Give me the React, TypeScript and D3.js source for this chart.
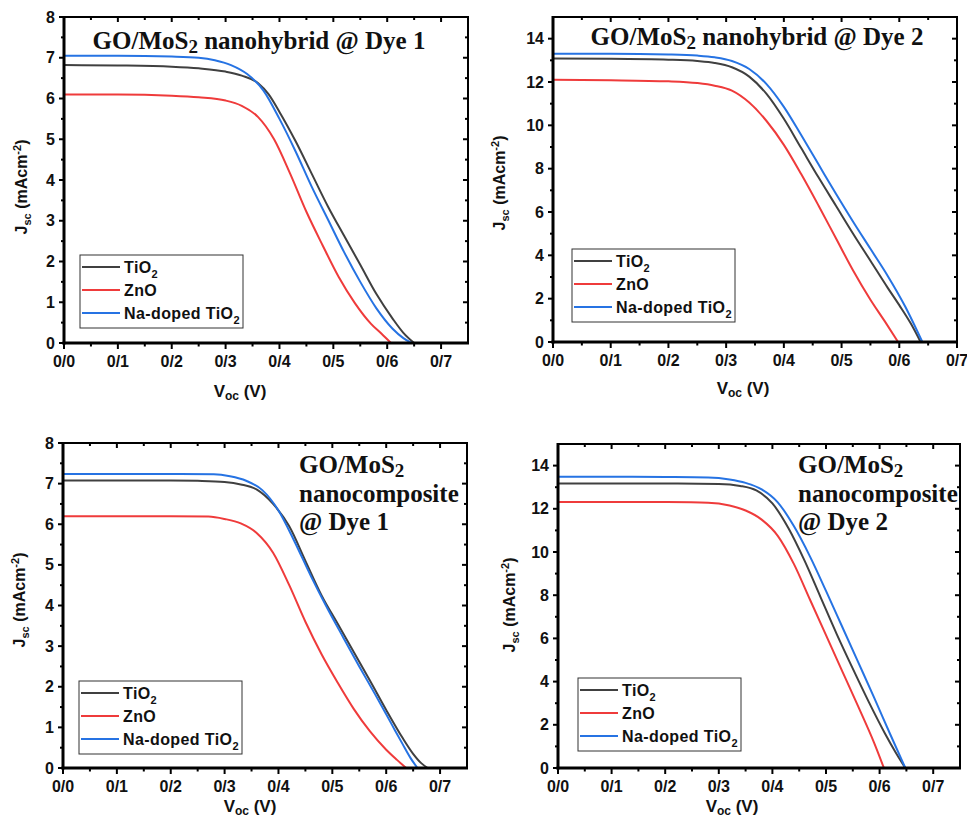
import React from 'react';
import * as d3 from 'd3';

// ---------- categories / ticks ----------
const seriesNames = ['TiO2', 'ZnO', 'Na-doped TiO2'];
const seriesColors = ['#404040', '#ef3b3b', '#2673e3'];

const xTicks = [0, 0.1, 0.2, 0.3, 0.4, 0.5, 0.6, 0.7];
const xTickLabels = ['0/0', '0/1', '0/2', '0/3', '0/4', '0/5', '0/6', '0/7'];
const xMinorTicks = [0.05, 0.15, 0.25, 0.35, 0.45, 0.55, 0.65, 0.75];
const yTicks8 = [0, 1, 2, 3, 4, 5, 6, 7, 8];
const yMinor8 = [0.5, 1.5, 2.5, 3.5, 4.5, 5.5, 6.5, 7.5];
const yTicks15 = [0, 2, 4, 6, 8, 10, 12, 14];
const yMinor15 = [1, 3, 5, 7, 9, 11, 13, 15];

// ---------- Panel 1: nanohybrid @ Dye 1 ----------
const p1TiO2V = [0, 0.1, 0.2, 0.25, 0.3, 0.33, 0.36, 0.38, 0.40, 0.43, 0.46, 0.49, 0.52, 0.55, 0.58, 0.61, 0.63, 0.65];
const p1TiO2J = [6.82, 6.81, 6.78, 6.74, 6.66, 6.56, 6.38, 6.1, 5.67, 4.95, 4.15, 3.35, 2.63, 1.92, 1.2, 0.6, 0.25, 0];
const p1ZnOV = [0, 0.1, 0.2, 0.25, 0.3, 0.33, 0.36, 0.39, 0.42, 0.45, 0.48, 0.51, 0.54, 0.57, 0.59, 0.607];
const p1ZnOJ = [6.1, 6.1, 6.07, 6.03, 5.95, 5.82, 5.55, 5.0, 4.15, 3.22, 2.4, 1.62, 0.98, 0.47, 0.22, 0];
const p1NaV = [0, 0.1, 0.2, 0.25, 0.28, 0.31, 0.34, 0.37, 0.40, 0.43, 0.46, 0.49, 0.52, 0.55, 0.58, 0.61, 0.63, 0.645];
const p1NaJ = [7.05, 7.05, 7.03, 7.0, 6.94, 6.82, 6.6, 6.2, 5.5, 4.7, 3.83, 3.03, 2.23, 1.5, 0.85, 0.35, 0.12, 0];

// ---------- Panel 2: nanohybrid @ Dye 2 ----------
const p2TiO2V = [0, 0.1, 0.2, 0.25, 0.28, 0.31, 0.34, 0.37, 0.40, 0.43, 0.46, 0.49, 0.52, 0.55, 0.58, 0.60, 0.62, 0.637];
const p2TiO2J = [13.08, 13.07, 13.03, 12.97, 12.88, 12.68, 12.25, 11.45, 10.3, 8.95, 7.6, 6.3, 5.0, 3.75, 2.5, 1.7, 0.85, 0];
const p2ZnOV = [0, 0.1, 0.2, 0.25, 0.28, 0.31, 0.34, 0.37, 0.40, 0.43, 0.46, 0.49, 0.52, 0.55, 0.575, 0.598];
const p2ZnOJ = [12.1, 12.08, 12.03, 11.95, 11.83, 11.6, 11.05, 10.2, 9.1, 7.75, 6.3, 4.8, 3.3, 1.95, 0.95, 0];
const p2NaV = [0, 0.1, 0.2, 0.25, 0.28, 0.31, 0.34, 0.37, 0.40, 0.43, 0.46, 0.49, 0.52, 0.55, 0.58, 0.61, 0.64];
const p2NaJ = [13.3, 13.3, 13.27, 13.22, 13.14, 12.97, 12.6, 11.9, 10.85, 9.55, 8.2, 6.85, 5.55, 4.3, 3.05, 1.65, 0];

// ---------- Panel 3: nanocomposite @ Dye 1 ----------
const p3TiO2V = [0, 0.1, 0.2, 0.25, 0.3, 0.33, 0.36, 0.39, 0.42, 0.45, 0.48, 0.51, 0.54, 0.57, 0.60, 0.63, 0.65, 0.665, 0.677];
const p3TiO2J = [7.08, 7.08, 7.08, 7.07, 7.04, 6.98, 6.85, 6.5, 5.95, 5.1, 4.25, 3.55, 2.85, 2.15, 1.43, 0.75, 0.35, 0.12, 0];
const p3ZnOV = [0, 0.1, 0.2, 0.27, 0.30, 0.33, 0.36, 0.39, 0.42, 0.45, 0.48, 0.51, 0.54, 0.57, 0.60, 0.62, 0.637];
const p3ZnOJ = [6.2, 6.2, 6.2, 6.19, 6.13, 6.02, 5.78, 5.3, 4.5, 3.6, 2.8, 2.1, 1.45, 0.9, 0.45, 0.2, 0];
const p3NaV = [0, 0.1, 0.2, 0.28, 0.31, 0.34, 0.37, 0.40, 0.43, 0.46, 0.49, 0.52, 0.55, 0.58, 0.61, 0.63, 0.645, 0.658];
const p3NaJ = [7.24, 7.24, 7.24, 7.23, 7.18, 7.07, 6.84, 6.34, 5.57, 4.73, 3.95, 3.22, 2.5, 1.8, 1.08, 0.6, 0.25, 0];

// ---------- Panel 4: nanocomposite @ Dye 2 ----------
const p4TiO2V = [0, 0.1, 0.2, 0.3, 0.34, 0.37, 0.40, 0.43, 0.46, 0.49, 0.52, 0.55, 0.58, 0.61, 0.63, 0.648];
const p4TiO2J = [13.17, 13.17, 13.17, 13.15, 13.06, 12.85, 12.25, 11.1, 9.6, 7.9, 6.2, 4.6, 3.05, 1.6, 0.72, 0];
const p4ZnOV = [0, 0.1, 0.2, 0.28, 0.32, 0.35, 0.38, 0.41, 0.44, 0.47, 0.50, 0.53, 0.56, 0.59, 0.608];
const p4ZnOJ = [12.32, 12.32, 12.31, 12.28, 12.15, 11.92, 11.5, 10.75, 9.45, 7.8, 6.15, 4.5, 2.85, 1.15, 0];
const p4NaV = [0, 0.1, 0.2, 0.28, 0.32, 0.35, 0.38, 0.41, 0.44, 0.47, 0.50, 0.53, 0.56, 0.59, 0.62, 0.648];
const p4NaJ = [13.48, 13.48, 13.47, 13.45, 13.36, 13.2, 12.9, 12.3, 11.2, 9.8, 8.2, 6.55, 4.9, 3.25, 1.55, 0];

const SANS = '"Liberation Sans", Arial, sans-serif';
const SERIF = '"Liberation Serif", "Times New Roman", serif';

type Layout = {
  L: number; T: number; R: number; B: number; xMax: number; yMax: number;
  yTicks: number[]; yMinor: number[];
  titleLines: string[]; titleX: number; titleY: number; titleAnchor: string;
  yLabX: number; yLabY: number; xLabX: number; xLabY: number;
  legX: number; legY: number;
  series: { v: number[]; j: number[] }[];
};

const panels: Layout[] = [
  {
    L: 64, T: 17, R: 468, B: 343, xMax: 0.75, yMax: 8, yTicks: yTicks8, yMinor: yMinor8,
    titleLines: ['GO/MoS| nanohybrid @ Dye 1'], titleX: 259, titleY: 49, titleAnchor: 'middle',
    yLabX: 27, yLabY: 187, xLabX: 240, xLabY: 397, legX: 80, legY: 255,
    series: [{ v: p1TiO2V, j: p1TiO2J }, { v: p1ZnOV, j: p1ZnOJ }, { v: p1NaV, j: p1NaJ }],
  },
  {
    L: 553, T: 17, R: 957, B: 342, xMax: 0.7, yMax: 15, yTicks: yTicks15, yMinor: yMinor15,
    titleLines: ['GO/MoS| nanohybrid @ Dye 2'], titleX: 757, titleY: 45, titleAnchor: 'middle',
    yLabX: 505, yLabY: 183, xLabX: 743, xLabY: 394, legX: 572, legY: 249,
    series: [{ v: p2TiO2V, j: p2TiO2J }, { v: p2ZnOV, j: p2ZnOJ }, { v: p2NaV, j: p2NaJ }],
  },
  {
    L: 63, T: 443, R: 467, B: 768, xMax: 0.75, yMax: 8, yTicks: yTicks8, yMinor: yMinor8,
    titleLines: ['GO/MoS|', 'nanocomposite', '@ Dye 1'], titleX: 299, titleY: 473, titleAnchor: 'start',
    yLabX: 25, yLabY: 600, xLabX: 250, xLabY: 812, legX: 79, legY: 681,
    series: [{ v: p3TiO2V, j: p3TiO2J }, { v: p3ZnOV, j: p3ZnOJ }, { v: p3NaV, j: p3NaJ }],
  },
  {
    L: 558, T: 444, R: 960, B: 768, xMax: 0.75, yMax: 15, yTicks: yTicks15, yMinor: yMinor15,
    titleLines: ['GO/MoS|', 'nanocomposite', '@ Dye 2'], titleX: 798, titleY: 473, titleAnchor: 'start',
    yLabX: 515, yLabY: 605, xLabX: 732, xLabY: 812, legX: 578, legY: 678,
    series: [{ v: p4TiO2V, j: p4TiO2J }, { v: p4ZnOV, j: p4ZnOJ }, { v: p4NaV, j: p4NaJ }],
  },
];

function TitleLine({ text, x, y, anchor }: { text: string; x: number; y: number; anchor: string }) {
  const parts = text.split('|');
  return (
    <text x={x} y={y} textAnchor={anchor} fontFamily={SERIF} fontWeight="bold" fontSize={25} fill="#111">
      {parts[0]}
      {parts.length > 1 && (
        <>
          <tspan fontSize={19} dy={4}>2</tspan>
          <tspan dy={-4}>{parts[1]}</tspan>
        </>
      )}
    </text>
  );
}

function LegendLabel({ name, x, y }: { name: string; x: number; y: number }) {
  const hasSub = name.endsWith('TiO2');
  const base = hasSub ? name.slice(0, -1) : name;
  return (
    <text x={x} y={y} fontFamily={SANS} fontWeight="bold" fontSize={16} letterSpacing={0.4} fill="#111">
      {base}
      {hasSub && <tspan fontSize={11} dy={5}>2</tspan>}
    </text>
  );
}

function Panel({ p }: { p: Layout }) {
  const x = d3.scaleLinear().domain([0, p.xMax]).range([p.L, p.R]);
  const y = d3.scaleLinear().domain([0, p.yMax]).range([p.B, p.T]);
  const line = d3
    .line<[number, number]>()
    .x((d) => x(d[0]))
    .y((d) => y(d[1]))
    .curve(d3.curveMonotoneX);

  return (
    <g>
      {p.series.map((s, i) => (
        <path
          key={i}
          d={line(s.v.map((v, k) => [v, s.j[k]] as [number, number])) || ''}
          fill="none"
          stroke={seriesColors[i]}
          strokeWidth={2}
        />
      ))}
      <rect x={p.L} y={p.T} width={p.R - p.L} height={p.B - p.T} fill="none" stroke="#000" strokeWidth={2} />
      <line x1={p.L} x2={p.L} y1={p.T - 1} y2={p.B + 1.5} stroke="#000" strokeWidth={3} />
      <line x1={p.L - 1.5} x2={p.R + 1} y1={p.B} y2={p.B} stroke="#000" strokeWidth={3} />
      {xTicks.map((t, i) => (
        <g key={'xt' + i}>
          <line x1={x(t)} x2={x(t)} y1={p.B} y2={p.B + 6} stroke="#000" strokeWidth={2} />
          <line x1={x(t)} x2={x(t)} y1={p.T} y2={p.T + 5} stroke="#000" strokeWidth={2} />
          <text x={x(t)} y={p.B + 24} textAnchor="middle" fontFamily={SANS} fontWeight="bold" fontSize={16} fill="#111">
            {xTickLabels[i]}
          </text>
        </g>
      ))}
      {xMinorTicks.filter((t) => t < p.xMax).map((t, i) => (
        <g key={'xm' + i}>
          <line x1={x(t)} x2={x(t)} y1={p.B} y2={p.B + 3.5} stroke="#000" strokeWidth={2} />
          <line x1={x(t)} x2={x(t)} y1={p.T} y2={p.T + 3} stroke="#000" strokeWidth={2} />
        </g>
      ))}
      {p.yTicks.map((t, i) => (
        <g key={'yt' + i}>
          <line x1={p.L - 5} x2={p.L} y1={y(t)} y2={y(t)} stroke="#000" strokeWidth={2} />
          <line x1={p.R - 5} x2={p.R} y1={y(t)} y2={y(t)} stroke="#000" strokeWidth={2} />
          <text x={p.L - 9} y={y(t) + 5.5} textAnchor="end" fontFamily={SANS} fontWeight="bold" fontSize={16} fill="#111">
            {t}
          </text>
        </g>
      ))}
      {p.yMinor.filter((t) => t < p.yMax).map((t, i) => (
        <g key={'ym' + i}>
          <line x1={p.L - 3} x2={p.L} y1={y(t)} y2={y(t)} stroke="#000" strokeWidth={2} />
          <line x1={p.R - 3} x2={p.R} y1={y(t)} y2={y(t)} stroke="#000" strokeWidth={2} />
        </g>
      ))}
      <text
        transform={`translate(${p.yLabX},${p.yLabY}) rotate(-90)`}
        textAnchor="middle"
        fontFamily={SANS}
        fontWeight="bold"
        fontSize={16}
        fill="#111"
      >
        J<tspan fontSize={11} dy={4}>sc</tspan>
        <tspan dy={-4}> (mAcm</tspan>
        <tspan fontSize={11} dy={-6}>-2</tspan>
        <tspan dy={6}>)</tspan>
      </text>
      <text x={p.xLabX} y={p.xLabY} textAnchor="middle" fontFamily={SANS} fontWeight="bold" fontSize={17} fill="#111">
        V<tspan fontSize={12} dy={3}>oc</tspan>
        <tspan dy={-3}> (V)</tspan>
      </text>
      {p.titleLines.map((tl, i) => (
        <TitleLine key={i} text={tl} x={p.titleX} y={p.titleY + i * 28.5} anchor={p.titleAnchor} />
      ))}
      <rect x={p.legX} y={p.legY} width={163} height={73} fill="#fff" stroke="#333" strokeWidth={1} />
      {seriesNames.map((n, i) => {
        const ry = p.legY + 12 + i * 23;
        return (
          <g key={'lg' + i}>
            <line x1={p.legX + 2} x2={p.legX + 40} y1={ry} y2={ry} stroke={seriesColors[i]} strokeWidth={2} />
            <LegendLabel name={n} x={p.legX + 44} y={ry + 6} />
          </g>
        );
      })}
    </g>
  );
}

export default function App() {
  return (
    <svg
      width={967}
      height={817}
      style={{ position: 'absolute', left: 0, top: 0, background: '#fff' }}
      xmlns="http://www.w3.org/2000/svg"
    >
      <rect x={0} y={0} width={967} height={817} fill="#fff" />
      {panels.map((p, i) => (
        <Panel key={i} p={p} />
      ))}
    </svg>
  );
}
